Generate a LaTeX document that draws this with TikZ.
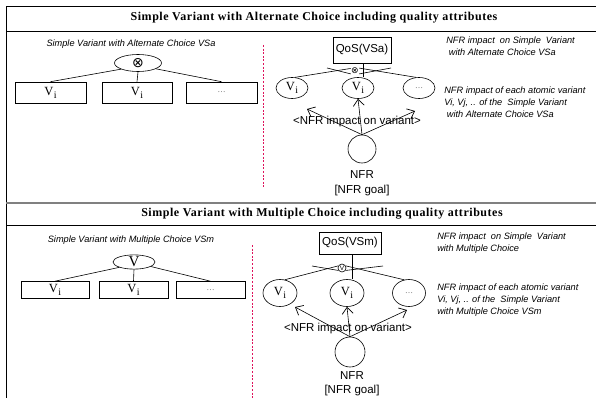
\documentclass[tikz,border=0pt]{standalone}
\usepackage{fontspec}
\setmainfont{Liberation Serif}
\newfontfamily\arialfont{Liberation Sans}
\newfontfamily\titlefont[LetterSpace=4.5]{Liberation Serif}
\newfontfamily\symfont{DejaVu Sans}
\usetikzlibrary{arrows.meta,shapes.geometric}

\definecolor{dashred}{RGB}{222,20,92}
\definecolor{sepgray}{RGB}{128,128,128}
\definecolor{dotgray}{RGB}{90,90,90}

% atomic variant label V_i
\newcommand\atomV{V\kern0.4pt\raisebox{-3pt}{\fontsize{10}{10}\selectfont i}}

\tikzset{
  every path/.style={line width=0.6pt},
  titletext/.style={font=\titlefont\bfseries\fontsize{12}{14}\selectfont, inner sep=0pt},
  note/.style={font=\arialfont\itshape\fontsize{9.2}{12}\selectfont, inner sep=0pt, align=left},
  sanslabel/.style={font=\arialfont\fontsize{11.5}{14}\selectfont, inner sep=0pt, align=center},
  variantbox/.style={draw, inner sep=0pt, font=\fontsize{12.5}{12}\selectfont},
  choiceell/.style={draw, ellipse, inner sep=0pt},
  varell/.style={draw, ellipse, inner sep=0pt, font=\fontsize{12.5}{12}\selectfont},
  qosbox/.style={draw, inner sep=0pt, font=\arialfont\fontsize{11.5}{12}\selectfont},
  goal/.style={draw, circle, inner sep=0pt},
  tinyop/.style={circle, inner sep=0pt},
  impact/.style={-{Straight Barb[length=6.5pt,width=11pt,line width=0.7pt]}},
  divider/.style={dashred, dash pattern=on 2pt off 1.6pt, line width=0.7pt},
}

\begin{document}
\begin{tikzpicture}[x=1pt,y=-1pt]
\useasboundingbox (0,0) rectangle (596,398);
\fill[white] (0,0) rectangle (596,398);

% frame and section rules
\coordinate (tl) at (6,6);
\coordinate (tr) at (596,6);
\coordinate (bl) at (6,398);
\draw[line width=0.8pt] (tr) -- (tl) -- (bl);
\draw[line width=0.6pt] (6,31) -- (596,31);
\draw[sepgray, line width=1.6pt] (6,203) -- (596,203);
\draw[line width=0.6pt] (6,225) -- (596,225);

% section titles
\node[titletext] (titleA) at (314,18) {Simple Variant with Alternate Choice including quality attributes};
\node[titletext] (titleB) at (322,214) {Simple Variant with Multiple Choice including quality attributes};

% ---------- alternate choice: feature tree ----------
\node[note] (capA) at (131,44) {Simple Variant with Alternate Choice VSa};
\node[choiceell, minimum width=47pt, minimum height=17pt] (altA) at (138,63)
  {\symfont\fontsize{14}{14}\selectfont ⊗};
\node[variantbox, minimum width=71pt, minimum height=21pt] (bA1) at (50.5,92.5) {\atomV};
\node[variantbox, minimum width=70pt, minimum height=21pt] (bA2) at (137,92.5) {\atomV};
\node[variantbox, minimum width=71pt, minimum height=21pt] (bA3) at (221.5,92.5) {\textcolor{dotgray}{\fontsize{8}{8}\selectfont\ldots}};
\draw (altA.200) -- (bA1.north);
\draw (altA.south) -- (bA2.north);
\draw (altA.-18) -- (bA3.north);

\coordinate (dA1) at (263,45);
\coordinate (dA2) at (263,187);
\draw[divider] (dA1) -- (dA2);

% ---------- alternate choice: quality attributes ----------
\node[qosbox, minimum width=58pt, minimum height=26pt] (qosA) at (362,50) {QoS(VSa)};
\node[tinyop, minimum size=7pt] (opA) at (355,71) {\symfont\fontsize{9}{9}\selectfont ⊗};
\node[varell, minimum width=32pt, minimum height=21pt] (vA1) at (292,88) {\atomV};
\node[varell, minimum width=32pt, minimum height=21pt] (vA2) at (358,88) {\atomV};
\node[varell, minimum width=32pt, minimum height=21pt] (vA3) at (419,88) {\textcolor{dotgray}{\fontsize{8}{8}\selectfont\ldots}};
\coordinate (arcA1) at (327,68);
\coordinate (arcA2) at (391,68);
\draw (vA1.75) -- (opA.150);
\draw (arcA1) -- (opA.215);
\draw (opA.-35) -- (arcA2);
\draw (qosA.south) ++(1,0) coordinate (qA0) -- (vA2.north -| qA0);
\draw (opA.35) -- (vA3.105);

\node[sanslabel] (impA) at (357,122) {<NFR impact on variant>};
\node[goal, minimum size=28pt] (nfrA) at (362,149) {};
\node[sanslabel, anchor=north] (nfrtxtA) at (362,170) {NFR\\[1pt][NFR goal]};
\coordinate (tipA1) at (307,109);
\coordinate (tipA3) at (415,111);
\draw[impact] (nfrA.north) -- (tipA1);
\draw[impact] (nfrA.north) -- (vA2.south);
\draw[impact] (nfrA.north) -- (tipA3);

\node[note, anchor=west] (noteA1) at (446,46) {NFR impact \ on Simple \ Variant\\ \ with Alternate Choice VSa};
\node[note, anchor=west] (noteA2) at (444,102) {NFR impact of each atomic variant\\Vi, Vj, .. of the \ Simple Variant\\ \ with Alternate Choice VSa};

% ---------- multiple choice: feature tree ----------
\node[note] (capB) at (131,240) {Simple Variant with Multiple Choice VSm};
\node[choiceell, minimum width=42pt, minimum height=14pt] (orB) at (134,262)
  {\fontsize{15}{15}\selectfont V};
\node[variantbox, minimum width=68pt, minimum height=17pt] (bB1) at (55,290) {\atomV};
\node[variantbox, minimum width=69pt, minimum height=17pt] (bB2) at (133.5,290) {\atomV};
\node[variantbox, minimum width=69pt, minimum height=17pt] (bB3) at (210.5,290) {\textcolor{dotgray}{\fontsize{8}{8}\selectfont\ldots}};
\draw (orB.200) -- (bB1.north);
\draw (orB.south) -- (bB2.north);
\draw (orB.-15) -- (bB3.north);

\coordinate (dB1) at (252,245);
\coordinate (dB2) at (252,398);
\draw[divider] (dB1) -- (dB2);

% ---------- multiple choice: quality attributes ----------
\node[qosbox, minimum width=62pt, minimum height=22pt] (qosB) at (350,243) {QoS(VSm)};
\node[tinyop, draw, minimum size=8pt] (opB) at (342,268) {\arialfont\fontsize{6.5}{6.5}\selectfont V};
\node[varell, minimum width=34pt, minimum height=27pt] (vB1) at (280,293) {\atomV};
\node[varell, minimum width=34pt, minimum height=27pt] (vB2) at (347,293) {\atomV};
\node[varell, minimum width=33pt, minimum height=27pt] (vB3) at (409,293) {\textcolor{dotgray}{\fontsize{8}{8}\selectfont\ldots}};
\coordinate (arcB1) at (312,266);
\coordinate (arcB2) at (383,266);
\draw (vB1.70) -- (opB.150);
\draw (arcB1) -- (opB.215);
\draw (opB.-35) -- (arcB2);
\draw (qosB.south) ++(2,0) coordinate (qB0) -- (vB2.north -| qB0);
\draw (opB.30) -- (vB3.110);

\node[sanslabel] (impB) at (348,329) {<NFR impact on variant>};
\node[goal, minimum size=30pt] (nfrB) at (350,352) {};
\node[sanslabel, anchor=north] (nfrtxtB) at (352,371) {NFR\\[0pt][NFR goal]};
\coordinate (tipB1) at (295,307);
\coordinate (tipB3) at (407,310);
\draw[impact] (nfrB.north) -- (tipB1);
\draw[impact] (nfrB.north) -- (vB2.south);
\draw[impact] (nfrB.north) -- (tipB3);

\node[note, anchor=west] (noteB1) at (437,243) {NFR impact \ on Simple \ Variant\\with Multiple Choice};
\node[note, anchor=west] (noteB2) at (437,300) {NFR impact of each atomic variant\\Vi, Vj, .. of the \ Simple Variant\\with Multiple Choice VSm};
\end{tikzpicture}
\end{document}
